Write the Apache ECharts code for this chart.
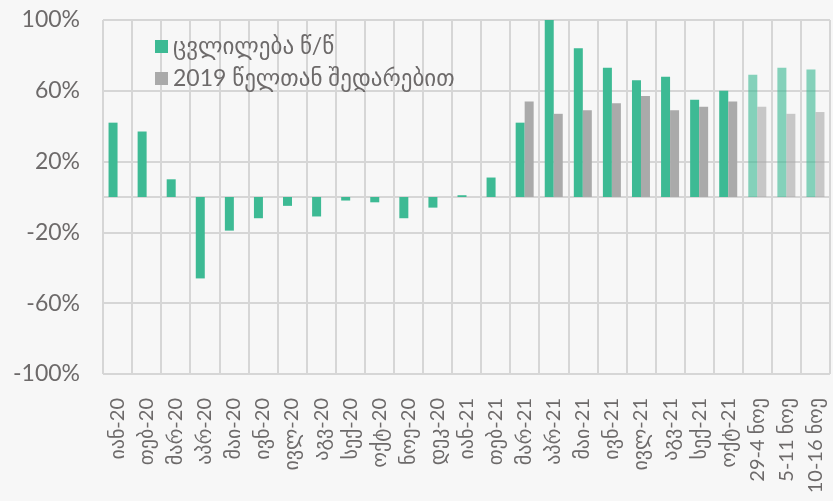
<!DOCTYPE html>
<html>
<head>
<meta charset="utf-8">
<script src="https://cdn.jsdelivr.net/npm/echarts@6/dist/echarts.min.js"></script>
<style>
html,body{margin:0;padding:0;background:#f7f7f7;}
#chart1{width:833px;height:501px;}
</style>
</head>
<body>
<div id="chart1"></div>
<script>
var categories=['იან-20','თებ-20','მარ-20','აპრ-20','მაი-20','ივნ-20','ივლ-20','აგვ-20','სექ-20','ოქტ-20','ნოე-20','დეკ-20',
	'იან-21','თებ-21','მარ-21','აპრ-21','მაი-21','ივნ-21','ივლ-21','აგვ-21','სექ-21','ოქტ-21',
	'29-4 ნოე','5-11 ნოე','10-16 ნოე'];
var yoyData=[42,37,10,-46,-19,-12,-5,-11,-2,-3,-12,-6,1,11,42,100,84,73,66,68,55,60,69,73,72];
var vs2019Data=[null,null,null,null,null,null,null,null,null,null,null,null,null,null,54,47,49,53,57,49,51,54,51,47,48];
var seriesNames=['ცვლილება წ/წ','2019 წელთან შედარებით'];
var yLabels=[-100,-60,-20,20,60,100];
var gridValues=[-100,-60,-20,0,20,60,100];
var weeklyCount=3;

chart1();

function buildData(arr){
	var res=[];
	for(var i=0;i<arr.length;i++){
		if(i>=arr.length-weeklyCount){
			res.push({value:arr[i],itemStyle:{opacity:0.62}});
		}else{
			res.push(arr[i]);
		}
	}
	return res;
}

function gridLines(){
	var res=[];
	for(var i=0;i<gridValues.length;i++){
		res.push({yAxis:gridValues[i]});
	}
	return res;
}

function chart1(){
	var myChart=echarts.init(document.getElementById('chart1'));
	var g='#d6d6d6';
	var font='Lato, "DejaVu Sans", sans-serif';
	var option={
		animation:false,
		grid:{
			left:103,
			right:3,
			top:20,
			bottom:127
		},
		legend:{
			orient:'vertical',
			left:150,
			top:30,
			itemGap:9,
			itemWidth:13,
			itemHeight:13,
			icon:'rect',
			textStyle:{fontSize:23,color:'#6d6a6a',fontFamily:font},
			data:seriesNames
		},
		xAxis:[
			{
				type:'category',
				data:categories,
				axisTick:{show:false},
				axisLine:{show:false},
				splitLine:{show:false},
				axisLabel:{
					rotate:90,
					interval:0,
					margin:24,
					fontSize:20,
					fontFamily:font,
					color:'#6d6a6a'
				}
			},
			// label-less copy, only for the vertical grid lines
			{
				type:'category',
				data:categories,
				position:'bottom',
				axisTick:{show:false},
				axisLabel:{show:false,interval:0},
				axisLine:{show:false},
				splitLine:{show:true,interval:0,lineStyle:{color:g,width:2}}
			}
		],
		yAxis:{
			type:'value',
			min:-100,
			max:100,
			interval:20,
			axisLine:{show:false},
			axisTick:{show:false},
			splitLine:{show:false},
			axisLabel:{
				margin:23,
				fontSize:23,
				fontFamily:font,
				color:'#6d6a6a',
				formatter:function(v){
					if(yLabels.indexOf(v)>=0){
						return v+'%';
					}
					return '';
				}
			}
		},
		series:[
			{
				name:seriesNames[0],
				type:'bar',
				barWidth:9,
				barGap:'0%',
				z:2,
				itemStyle:{color:'#3dba94'},
				data:buildData(yoyData),
				markLine:{
					silent:true,
					z:1,
					symbol:['none','none'],
					label:{show:false},
					lineStyle:{type:'solid',color:g,width:2},
					emphasis:{disabled:true},
					data:gridLines()
				}
			},
			{
				name:seriesNames[1],
				type:'bar',
				barWidth:9,
				barGap:'0%',
				z:2,
				itemStyle:{color:'#aaaaaa'},
				data:buildData(vs2019Data)
			}
		]
	};
	myChart.setOption(option);
	window.addEventListener("resize",function(){
		myChart.resize();
	});
}
</script>
</body>
</html>
